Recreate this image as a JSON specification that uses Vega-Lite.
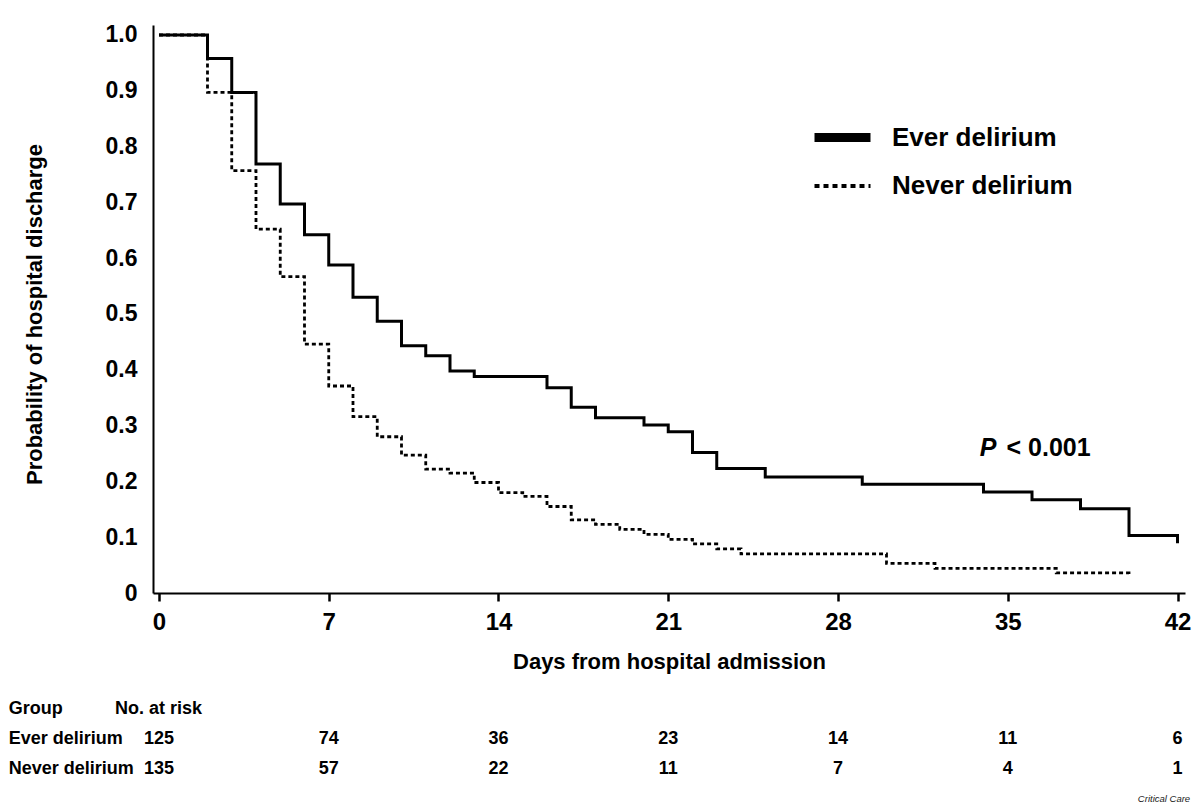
{
  "$schema": "https://vega.github.io/schema/vega-lite/v6.json",
  "width": 1032,
  "height": 568,
  "autosize": {"type": "none"},
  "padding": {"left": 153, "top": 25, "right": 15, "bottom": 210},
  "background": "white",
  "config": {"font": "Liberation Sans", "view": {"stroke": null}},
  "datasets": {
    "curves": [
      {"group": "Ever delirium", "day": 0, "prob": 1.0},
      {"group": "Ever delirium", "day": 2, "prob": 0.958},
      {"group": "Ever delirium", "day": 3, "prob": 0.897},
      {"group": "Ever delirium", "day": 4, "prob": 0.769},
      {"group": "Ever delirium", "day": 5, "prob": 0.697},
      {"group": "Ever delirium", "day": 6, "prob": 0.642},
      {"group": "Ever delirium", "day": 7, "prob": 0.588},
      {"group": "Ever delirium", "day": 8, "prob": 0.530},
      {"group": "Ever delirium", "day": 9, "prob": 0.487},
      {"group": "Ever delirium", "day": 10, "prob": 0.443},
      {"group": "Ever delirium", "day": 11, "prob": 0.425},
      {"group": "Ever delirium", "day": 12, "prob": 0.398},
      {"group": "Ever delirium", "day": 13, "prob": 0.388},
      {"group": "Ever delirium", "day": 16, "prob": 0.368},
      {"group": "Ever delirium", "day": 17, "prob": 0.333},
      {"group": "Ever delirium", "day": 18, "prob": 0.314},
      {"group": "Ever delirium", "day": 20, "prob": 0.301},
      {"group": "Ever delirium", "day": 21, "prob": 0.289},
      {"group": "Ever delirium", "day": 22, "prob": 0.252},
      {"group": "Ever delirium", "day": 23, "prob": 0.223},
      {"group": "Ever delirium", "day": 25, "prob": 0.208},
      {"group": "Ever delirium", "day": 29, "prob": 0.195},
      {"group": "Ever delirium", "day": 34, "prob": 0.181},
      {"group": "Ever delirium", "day": 36, "prob": 0.167},
      {"group": "Ever delirium", "day": 38, "prob": 0.151},
      {"group": "Ever delirium", "day": 40, "prob": 0.103},
      {"group": "Ever delirium", "day": 42, "prob": 0.089},
      {"group": "Never delirium", "day": 0, "prob": 1.0},
      {"group": "Never delirium", "day": 2, "prob": 0.897},
      {"group": "Never delirium", "day": 3, "prob": 0.757},
      {"group": "Never delirium", "day": 4, "prob": 0.652},
      {"group": "Never delirium", "day": 5, "prob": 0.567},
      {"group": "Never delirium", "day": 6, "prob": 0.446},
      {"group": "Never delirium", "day": 7, "prob": 0.371},
      {"group": "Never delirium", "day": 8, "prob": 0.316},
      {"group": "Never delirium", "day": 9, "prob": 0.280},
      {"group": "Never delirium", "day": 10, "prob": 0.247},
      {"group": "Never delirium", "day": 11, "prob": 0.222},
      {"group": "Never delirium", "day": 12, "prob": 0.215},
      {"group": "Never delirium", "day": 13, "prob": 0.198},
      {"group": "Never delirium", "day": 14, "prob": 0.180},
      {"group": "Never delirium", "day": 15, "prob": 0.173},
      {"group": "Never delirium", "day": 16, "prob": 0.155},
      {"group": "Never delirium", "day": 17, "prob": 0.131},
      {"group": "Never delirium", "day": 18, "prob": 0.123},
      {"group": "Never delirium", "day": 19, "prob": 0.114},
      {"group": "Never delirium", "day": 20, "prob": 0.105},
      {"group": "Never delirium", "day": 21, "prob": 0.096},
      {"group": "Never delirium", "day": 22, "prob": 0.088},
      {"group": "Never delirium", "day": 23, "prob": 0.079},
      {"group": "Never delirium", "day": 24, "prob": 0.070},
      {"group": "Never delirium", "day": 30, "prob": 0.053},
      {"group": "Never delirium", "day": 32, "prob": 0.044},
      {"group": "Never delirium", "day": 37, "prob": 0.036},
      {"group": "Never delirium", "day": 40, "prob": 0.032}
    ],
    "risk": [
      {"group": "Ever delirium", "day": 0, "n": 125},
      {"group": "Ever delirium", "day": 7, "n": 74},
      {"group": "Ever delirium", "day": 14, "n": 36},
      {"group": "Ever delirium", "day": 21, "n": 23},
      {"group": "Ever delirium", "day": 28, "n": 14},
      {"group": "Ever delirium", "day": 35, "n": 11},
      {"group": "Ever delirium", "day": 42, "n": 6},
      {"group": "Never delirium", "day": 0, "n": 135},
      {"group": "Never delirium", "day": 7, "n": 57},
      {"group": "Never delirium", "day": 14, "n": 22},
      {"group": "Never delirium", "day": 21, "n": 11},
      {"group": "Never delirium", "day": 28, "n": 7},
      {"group": "Never delirium", "day": 35, "n": 4},
      {"group": "Never delirium", "day": 42, "n": 1}
    ],
    "rowNames": [
      {"label": "Group", "row": "Group"},
      {"label": "Ever delirium", "row": "Ever delirium"},
      {"label": "Never delirium", "row": "Never delirium"}
    ],
    "single": [{"k": 1}]
  },
  "layer": [
    {
      "layer": [
        {
          "data": {"name": "curves"},
          "mark": {"type": "line", "interpolate": "step-after", "color": "black", "strokeCap": "butt"},
          "encoding": {
            "x": {
              "field": "day", "type": "quantitative",
              "scale": {"domain": [-0.247, 42.309], "nice": false, "zero": false},
              "axis": {
                "values": [0, 7, 14, 21, 28, 35, 42],
                "title": "Days from hospital admission",
                "titleFontSize": 22, "titleFontWeight": "bold", "titleColor": "black",
                "titleBaseline": "alphabetic", "titleY": 75,
                "labelFontSize": 24, "labelFontWeight": "bold", "labelColor": "black",
                "labelPadding": 9, "labelFlush": false, "labelOverlap": false,
                "tickSize": 8, "tickWidth": 2.5, "tickColor": "black",
                "domainColor": "black", "domainWidth": 2, "grid": false
              }
            },
            "y": {
              "field": "prob", "type": "quantitative",
              "scale": {"domain": [0, 1.0179], "nice": false},
              "axis": {
                "values": [0, 0.1, 0.2, 0.3, 0.4, 0.5, 0.6, 0.7, 0.8, 0.9, 1.0],
                "labelExpr": "datum.value === 0 ? '0' : format(datum.value, '.1f')",
                "ticks": false, "tickSize": 0, "labelPadding": 16,
                "labelFontSize": 23, "labelFontWeight": "bold", "labelColor": "black",
                "labelFlush": false, "labelOverlap": false,
                "domainColor": "black", "domainWidth": 2, "grid": false,
                "title": "Probability of hospital discharge",
                "titleFontSize": 22, "titleFontWeight": "bold", "titleColor": "black",
                "titleBaseline": "alphabetic", "titleX": -112, "titleY": 289
              }
            },
            "strokeDash": {
              "field": "group", "type": "nominal",
              "scale": {"domain": ["Ever delirium", "Never delirium"], "range": [[1, 0], [4, 3]]},
              "legend": null
            },
            "strokeWidth": {
              "field": "group", "type": "ordinal",
              "scale": {"domain": ["Ever delirium", "Never delirium"], "range": [3, 2.8]},
              "legend": null
            }
          }
        },
        {
          "data": {"name": "curves"},
          "transform": [{"filter": "datum.day < 0"}],
          "mark": {"type": "line", "color": "black", "strokeCap": "butt"},
          "encoding": {
            "x": {"field": "day", "type": "quantitative"},
            "y": {"field": "prob", "type": "quantitative"},
            "strokeDash": {
              "field": "group", "type": "nominal",
              "scale": {"domain": ["Ever delirium", "Never delirium"], "range": [[1, 0], [5, 4]]},
              "legend": {
                "title": null, "orient": "none", "legendX": 657, "legendY": 80,
                "symbolType": "stroke", "symbolSize": 3136, "symbolStrokeColor": "black", "symbolOpacity": 1,
                "labelFont": "Liberation Sans", "labelFontSize": 26, "labelFontWeight": "bold",
                "labelColor": "black", "labelOffset": 17, "labelLimit": 400, "rowPadding": -18
              }
            },
            "strokeWidth": {
              "field": "group", "type": "ordinal",
              "scale": {"domain": ["Ever delirium", "Never delirium"], "range": [9, 4]},
              "legend": {
                "title": null, "orient": "none", "legendX": 657, "legendY": 80,
                "symbolType": "stroke", "symbolSize": 3136, "symbolStrokeColor": "black", "symbolOpacity": 1,
                "labelFont": "Liberation Sans", "labelFontSize": 26, "labelFontWeight": "bold",
                "labelColor": "black", "labelOffset": 17, "labelLimit": 400, "rowPadding": -18
              }
            }
          }
        },
        {
          "data": {"name": "single"},
          "mark": {"type": "text", "text": "P", "font": "Liberation Sans", "fontStyle": "italic", "fontWeight": "bold", "fontSize": 25, "align": "left", "baseline": "alphabetic", "color": "black"},
          "encoding": {"x": {"datum": 33.85}, "y": {"datum": 0.2455}}
        },
        {
          "data": {"name": "single"},
          "mark": {"type": "text", "text": "< 0.001", "font": "Liberation Sans", "fontWeight": "bold", "fontSize": 25, "align": "left", "baseline": "alphabetic", "color": "black"},
          "encoding": {"x": {"datum": 34.95}, "y": {"datum": 0.2455}}
        }
      ],
      "resolve": {
        "scale": {"strokeDash": "independent", "strokeWidth": "independent"},
        "legend": {"strokeDash": "independent", "strokeWidth": "independent"}
      }
    },
    {
      "layer": [
        {
          "data": {"name": "risk"},
          "mark": {"type": "text", "font": "Liberation Sans", "fontWeight": "bold", "fontSize": 18, "align": "center", "baseline": "middle", "color": "black"},
          "encoding": {
            "x": {"field": "day", "type": "quantitative"},
            "y": {"field": "group", "type": "nominal", "scale": {"domain": ["Group", "Ever delirium", "Never delirium", "Credit"], "range": [683.5, 773.5], "padding": 0}, "axis": null},
            "text": {"field": "n"}
          }
        },
        {
          "data": {"name": "rowNames"},
          "mark": {"type": "text", "font": "Liberation Sans", "fontWeight": "bold", "fontSize": 18, "align": "left", "baseline": "middle", "color": "black"},
          "encoding": {
            "x": {"datum": -6.2},
            "y": {"field": "row", "type": "nominal"},
            "text": {"field": "label"}
          }
        },
        {
          "data": {"name": "single"},
          "mark": {"type": "text", "text": "No. at risk", "font": "Liberation Sans", "fontWeight": "bold", "fontSize": 18, "align": "left", "baseline": "middle", "color": "black"},
          "encoding": {"x": {"datum": -1.81}, "y": {"datum": "Group", "type": "nominal"}}
        },
        {
          "data": {"name": "single"},
          "mark": {"type": "text", "text": "Critical Care", "font": "Liberation Sans", "fontStyle": "italic", "fontSize": 9.5, "align": "right", "baseline": "middle", "color": "#222222"},
          "encoding": {"x": {"datum": 42.52}, "y": {"datum": "Credit", "type": "nominal"}}
        }
      ]
    }
  ],
  "resolve": {"scale": {"y": "independent"}}
}
